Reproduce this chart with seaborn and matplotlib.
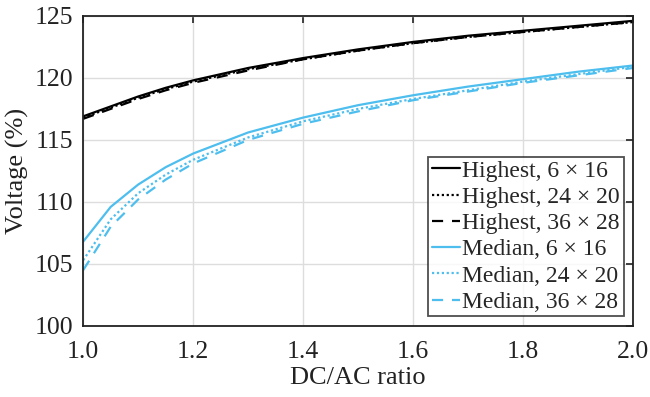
import numpy as np
import pandas as pd
import matplotlib
matplotlib.use('Agg')
import matplotlib.pyplot as plt
import seaborn as sns

# 資料
dc_ac = [1.0, 1.05, 1.1, 1.15, 1.2, 1.3, 1.4, 1.5, 1.6, 1.7, 1.8, 1.9, 2.0]
high_6x16 = [116.9, 117.7, 118.5, 119.2, 119.8, 120.8, 121.6, 122.3, 122.9, 123.4, 123.8, 124.2, 124.6]
high_24x20 = [116.8, 117.6, 118.4, 119.1, 119.7, 120.7, 121.5, 122.2, 122.8, 123.3, 123.7, 124.1, 124.5]
high_36x28 = [116.7, 117.5, 118.3, 119.0, 119.6, 120.6, 121.5, 122.2, 122.8, 123.3, 123.7, 124.1, 124.5]
med_6x16 = [106.8, 109.6, 111.4, 112.8, 113.9, 115.6, 116.8, 117.8, 118.6, 119.3, 119.9, 120.5, 121.0]
med_24x20 = [105.3, 108.6, 110.7, 112.2, 113.4, 115.2, 116.5, 117.5, 118.3, 119.0, 119.7, 120.3, 120.9]
med_36x28 = [104.5, 108.0, 110.2, 111.8, 113.1, 115.0, 116.3, 117.3, 118.2, 118.9, 119.6, 120.2, 120.8]

labels = ['Highest, 6 × 16', 'Highest, 24 × 20', 'Highest, 36 × 28',
          'Median, 6 × 16', 'Median, 24 × 20', 'Median, 36 × 28']
series = [high_6x16, high_24x20, high_36x28, med_6x16, med_24x20, med_36x28]
colors = ['black'] * 3 + ['#4dbeee'] * 3
styles = ['-', (0, (1, 1.2)), (0, (5, 4))] * 2

sns.set_style('white')
plt.rcParams['font.family'] = ['Liberation Serif', 'DejaVu Serif']

fig = plt.figure(figsize=(6.5, 3.97), dpi=100)
ax = fig.add_axes([0.128, 0.179, 0.846, 0.781])

for y, lab, c, ls in zip(series, labels, colors, styles):
    sns.lineplot(x=dc_ac, y=y, ax=ax, color=c, linestyle=ls, linewidth=1.6, label=lab)

ax.set_xlim(1.0, 2.0)
ax.set_ylim(100, 125)
ax.set_xticks(np.arange(1.0, 2.01, 0.2))
ax.set_yticks(np.arange(100, 126, 5))
ax.xaxis.set_major_formatter(matplotlib.ticker.FormatStrFormatter('%.1f'))
ax.grid(True, color='#dddddd', linewidth=1)
ax.tick_params(direction='in', length=5, width=1.2, labelsize=18.5, top=True, right=True,
               colors='#222222')
ax.tick_params(axis='x', pad=11)
ax.tick_params(axis='y', pad=7)
for s in ax.spines.values():
    s.set_color('#222222')
    s.set_linewidth(1.3)
ax.set_xlabel('DC/AC ratio', fontsize=19, color='#222222', labelpad=3)
ax.set_ylabel('Voltage (%)', fontsize=19, color='#222222', labelpad=4)

leg = ax.legend(loc='lower right', fontsize=17, frameon=True, fancybox=False,
                edgecolor='#222222', handlelength=1.2, handletextpad=0.1,
                labelspacing=0.2, borderpad=0.15, borderaxespad=0.4)
leg.get_frame().set_linewidth(1.3)

fig.savefig('out.png', dpi=100)
